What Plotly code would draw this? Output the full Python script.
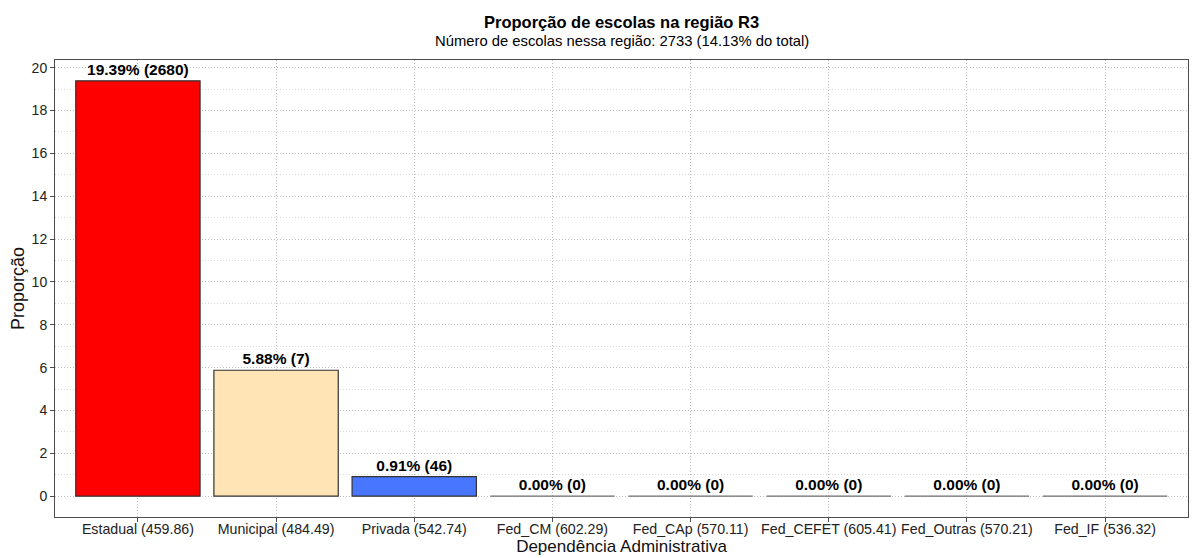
import plotly.graph_objects as go

categories = ["Estadual (459.86)", "Municipal (484.49)", "Privada (542.74)", "Fed_CM (602.29)",
              "Fed_CAp (570.11)", "Fed_CEFET (605.41)", "Fed_Outras (570.21)", "Fed_IF (536.32)"]
proportions = [19.39, 5.88, 0.91, 0.0, 0.0, 0.0, 0.0, 0.0]
counts = [2680, 7, 46, 0, 0, 0, 0, 0]
colors = ["#FF0000", "#FFE4B5", "#4876FF", "#7F7F7F", "#7F7F7F", "#7F7F7F", "#7F7F7F", "#7F7F7F"]
outline = ["#333333", "#333333", "#333333", "#6E6E6E", "#6E6E6E", "#6E6E6E", "#6E6E6E", "#6E6E6E"]

labels = [f"{p:.2f}% ({c})" for p, c in zip(proportions, counts)]
font = "Liberation Sans"

fig = go.Figure()
fig.add_trace(go.Bar(
    x=categories, y=proportions, width=0.9,
    marker=dict(color=colors, line=dict(color=outline, width=1.2)),
    text=labels, textposition="outside", cliponaxis=False,
    textfont=dict(family=font, size=15.5, color="black", weight="bold"),
))

fig.update_layout(
    width=1190, height=550,
    margin=dict(l=47, r=10, t=52, b=41),
    plot_bgcolor="white", paper_bgcolor="white",
    showlegend=False,
    font=dict(family=font, color="#222222"),
    annotations=[
        dict(text="<b>Proporção de escolas na região R3</b>", x=0.5, y=1, xref="paper", yref="paper",
             yshift=27, showarrow=False, font=dict(size=16.5, color="black"), yanchor="bottom"),
        dict(text="Número de escolas nessa região: 2733 (14.13% do total)", x=0.5, y=1, xref="paper", yref="paper",
             yshift=9, showarrow=False, font=dict(size=14.8, color="black"), yanchor="bottom"),
    ],
)
dash = "1px,2px"
fig.update_xaxes(
    range=[-0.6, 7.6], showgrid=True, gridcolor="#BEBEBE", griddash=dash, gridwidth=1,
    showline=True, linecolor="#4D4D4D", mirror=True, linewidth=1,
    ticks="outside", ticklen=4, tickcolor="#4D4D4D", automargin=False, tickangle=0,
    ticklabelstandoff=-5,
    tickfont=dict(size=14.2, color="#222222"),
    title=dict(text="Dependência Administrativa", font=dict(size=17, color="#111111"), standoff=2),
)
fig.update_yaxes(
    range=[-0.97, 20.36], dtick=2, tick0=0, showgrid=True, gridcolor="#BEBEBE", griddash=dash, gridwidth=1,
    minor=dict(dtick=1, tick0=0, showgrid=True, gridcolor="#D9D9D9", griddash=dash),
    showline=True, linecolor="#4D4D4D", mirror=True, linewidth=1,
    ticks="outside", ticklen=4, tickcolor="#4D4D4D", zeroline=False, automargin=False,
    tickfont=dict(size=14, color="#222222"),
    title=dict(text="Proporção", font=dict(size=18, color="#111111"), standoff=4),
)
fig.write_html("out.html")
